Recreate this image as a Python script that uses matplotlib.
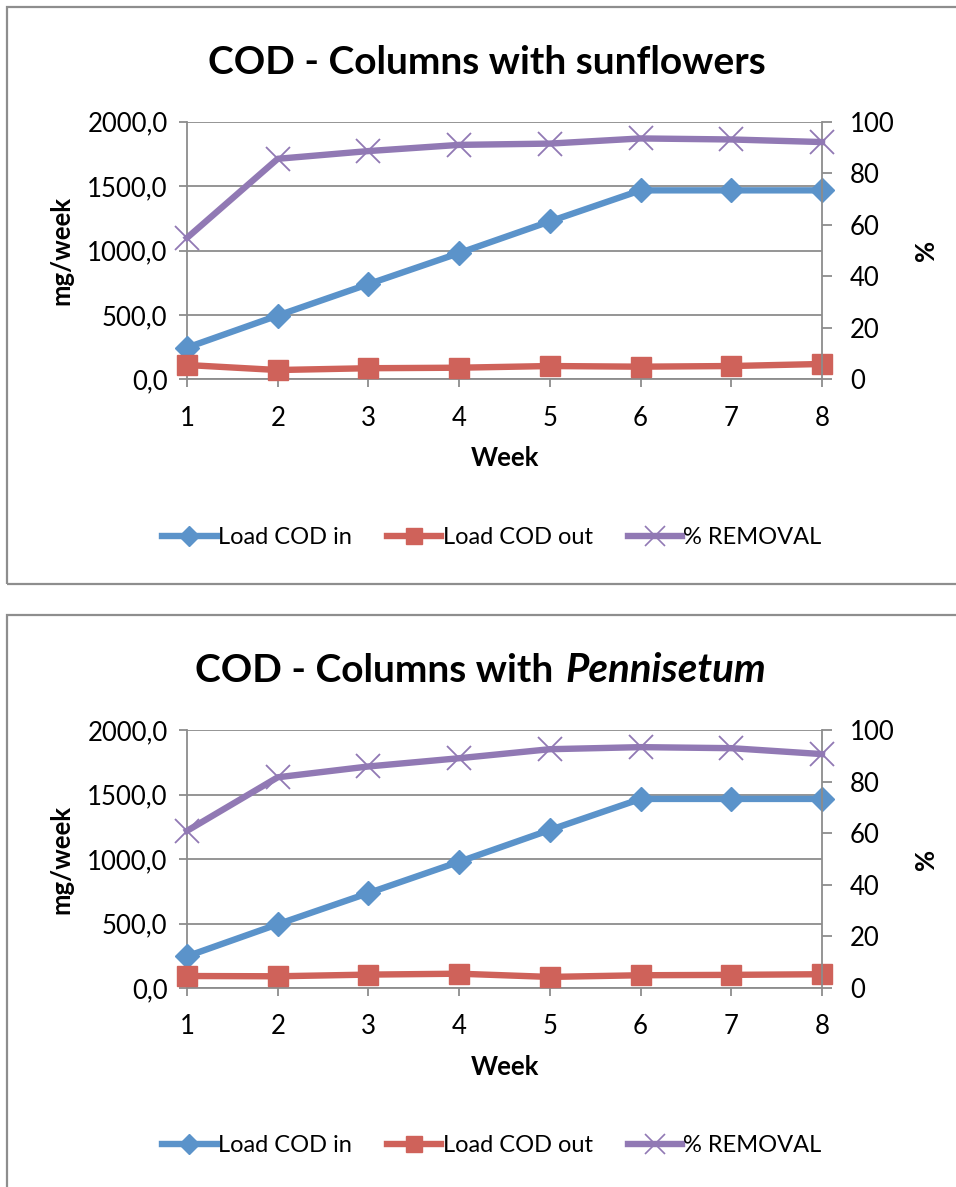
import matplotlib
matplotlib.use("Agg")
import matplotlib.pyplot as plt
from matplotlib.patches import Rectangle
from matplotlib.lines import Line2D

plt.rcParams['font.family'] = ['Lato', 'DejaVu Sans']

weeks = [1, 2, 3, 4, 5, 6, 7, 8]

# Top chart: sunflowers
sun_load_in = [246, 495, 739, 980, 1226, 1467, 1467, 1467]
sun_load_out = [111, 72, 86, 90, 103, 98, 103, 119]
sun_removal = [54.9, 85.6, 88.6, 91.0, 91.5, 93.5, 93.1, 92.1]

# Bottom chart: Pennisetum
pen_load_in = [246, 495, 737, 980, 1227, 1468, 1468, 1468]
pen_load_out = [93, 91, 104, 111, 86, 99, 102, 107]
pen_removal = [61.0, 81.8, 86.0, 89.2, 92.7, 93.5, 93.1, 90.8]

left_ticks = [0, 500, 1000, 1500, 2000]
right_ticks = [0, 20, 40, 60, 80, 100]
series_names = ["Load COD in", "Load COD out", "% REMOVAL"]

BLUE = '#5B93CA'
RED = '#CF625A'
PURPLE = '#9179B4'
GRID = '#8C8C8C'

W, H = 956, 1187
fig = plt.figure(figsize=(W / 100, H / 100), dpi=100)

def fx(px):
    return px / W

def fy(py):
    return 1 - py / H

# panel borders
fig.patches.append(Rectangle((fx(7), fy(584)), fx(960) - fx(7), fy(7) - fy(584),
                             transform=fig.transFigure, fill=False, edgecolor='#8E8E8E', lw=1.6))
fig.patches.append(Rectangle((fx(7), fy(1195)), fx(960) - fx(7), fy(615) - fy(1195),
                             transform=fig.transFigure, fill=False, edgecolor='#8E8E8E', lw=1.6))

LBL = 18.5
LEG = 17
LW = 4.6


def make_chart(top_px, load_in, load_out, removal, legend_y):
    ax = fig.add_axes([fx(187), fy(top_px + 257.6), fx(822) - fx(187), 257.6 / H])
    ax2 = ax.twinx()
    ax.set_xlim(1, 8)
    ax.set_ylim(0, 2000)
    ax2.set_ylim(0, 100)
    ax.set_yticks(left_ticks)
    ax.set_yticklabels([f"{v:.1f}".replace('.', ',') for v in left_ticks])
    ax2.set_yticks(right_ticks)
    ax.set_xticks(weeks)
    ax.grid(axis='y', color=GRID, lw=1.3)
    ax.set_axisbelow(True)
    for a in (ax, ax2):
        for s in a.spines.values():
            s.set_visible(False)
    ax.spines['left'].set_visible(True)
    ax.spines['bottom'].set_visible(True)
    ax2.spines['right'].set_visible(True)
    for s in (ax.spines['left'], ax.spines['bottom'], ax2.spines['right']):
        s.set_color(GRID)
        s.set_linewidth(1.3)
    ax.tick_params(axis='both', colors=GRID, labelcolor='black', labelsize=LBL,
                   length=6, width=1.3, direction='out')
    ax.tick_params(axis='y', pad=8)
    ax.tick_params(axis='x', pad=13)
    ax2.tick_params(axis='y', colors=GRID, labelcolor='black', labelsize=LBL,
                    length=7, width=1.3, direction='out', pad=13)
    ax.plot(weeks, load_in, color=BLUE, lw=LW, marker='D', ms=12, mec=BLUE,
            clip_on=False, zorder=3)
    ax.plot(weeks, load_out, color=RED, lw=LW, marker='s', ms=14, mec=RED,
            clip_on=False, zorder=3)
    ax2.plot(weeks, removal, color=PURPLE, lw=LW, marker='x', ms=17, mew=1.3,
             mec=PURPLE, clip_on=False, zorder=3)
    ax.set_xlabel("Week", fontsize=LBL, fontweight='bold', labelpad=11)
    ax.set_ylabel("mg/week", fontsize=LBL, fontweight='bold', labelpad=10)
    ax2.set_ylabel("%", fontsize=LBL, fontweight='bold', labelpad=14, rotation=90)

    handles = [Line2D([], [], color=BLUE, lw=LW, marker='D', ms=10, mec=BLUE),
               Line2D([], [], color=RED, lw=LW, marker='s', ms=12, mec=RED),
               Line2D([], [], color=PURPLE, lw=LW, marker='x', ms=14, mew=1.2, mec=PURPLE)]
    fig.legend(handles, series_names, loc='center', bbox_to_anchor=(fx(492), fy(legend_y)),
               ncol=3, frameon=False, fontsize=LEG, handlelength=2.3, handletextpad=0.05,
               columnspacing=1.5, numpoints=1)


make_chart(121.7, sun_load_in, sun_load_out, sun_removal, 538)
make_chart(730.4, pen_load_in, pen_load_out, pen_removal, 1146)

TS = 28
fig.text(fx(487), fy(62), "COD - Columns with sunflowers", fontsize=TS, fontweight='bold',
         ha='center', va='center')
fig.text(fx(553), fy(670), "COD - Columns with", fontsize=TS, fontweight='bold',
         ha='right', va='center')
fig.text(fx(565), fy(670), "Pennisetum", fontsize=29, fontweight='bold', style='italic',
         ha='left', va='center')

fig.savefig("out.png", dpi=100)
